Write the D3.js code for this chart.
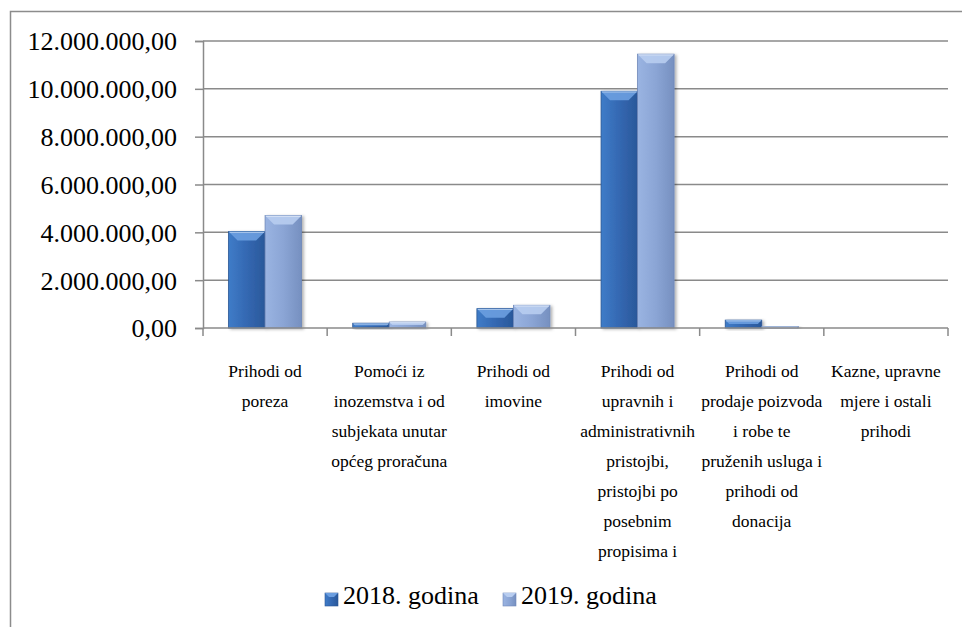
<!DOCTYPE html>
<html><head><meta charset="utf-8">
<script src="https://cdn.jsdelivr.net/npm/d3@7"></script>
<style>body{margin:0;background:#fff}svg{display:block}</style>
</head><body>
<svg id="c" width="962" height="627"></svg>
<script>
const categories = [
  ["Prihodi od","poreza"],
  ["Pomoći iz","inozemstva i od","subjekata unutar","općeg proračuna"],
  ["Prihodi od","imovine"],
  ["Prihodi od","upravnih i","administrativnih","pristojbi,","pristojbi po","posebnim","propisima i"],
  ["Prihodi od","prodaje poizvoda","i robe te","pruženih usluga i","prihodi od","donacija"],
  ["Kazne, upravne","mjere i ostali","prihodi"]
];
const seriesNames = ["2018. godina","2019. godina"];
const values2018 = [4030000, 200000, 810000, 9900000, 330000, 0];
const values2019 = [4700000, 250000, 950000, 11450000, 60000, 0];
const yTicks = [0,2000000,4000000,6000000,8000000,10000000,12000000];

const FONT = "'Liberation Serif', 'Times New Roman', 'DejaVu Serif', 'Noto Serif', serif";
const svg = d3.select("#c");
const L=203,R=948,T=41,B=328;
const defs = svg.append("defs");
const pal = [
  {main:["#3f7cc8","#3468b2","#2a589a"], top:"#6b9ee0", stroke:"#2a5594"},
  {main:["#9ab4e2","#8ba5d5","#7690c0"], top:"#b8cdf0", stroke:"#6f88b8"}
];
pal.forEach((p,i)=>{
  const g=defs.append("linearGradient").attr("id","g"+i).attr("x1",0).attr("x2",1).attr("y1",0).attr("y2",0);
  g.append("stop").attr("offset","0%").attr("stop-color",p.main[0]);
  g.append("stop").attr("offset","50%").attr("stop-color",p.main[1]);
  g.append("stop").attr("offset","100%").attr("stop-color",p.main[2]);
});
const f=defs.append("filter").attr("id","sh").attr("x","-20%").attr("y","-20%").attr("width","150%").attr("height","150%");
f.append("feDropShadow").attr("dx",2).attr("dy",1).attr("stdDeviation",1.5).attr("flood-color","#000").attr("flood-opacity",0.3);

svg.append("rect").attr("x",10.5).attr("y",11.5).attr("width",1000).attr("height",1000)
  .attr("fill","none").attr("stroke","#8c8c8c").attr("stroke-width",1.5);

const y = d3.scaleLinear().domain([0,12000000]).range([B,T]);
const idx = d3.range(categories.length);
const x = d3.scaleBand().domain(idx).range([L,R]).padding(0);
const xs = d3.scaleBand().domain([0,1]).range([0,x.bandwidth()]).paddingInner(0).paddingOuter(0.70);

const loc = d3.formatLocale({decimal:",",thousands:".",grouping:[3],currency:["",""]});
const fmt = loc.format(",.2f");

svg.append("g").selectAll("line").data(yTicks.filter(d=>d>0)).join("line")
  .attr("x1",L).attr("x2",R).attr("y1",d=>y(d)).attr("y2",d=>y(d))
  .attr("stroke","#8a8a8a").attr("stroke-width",1.5);

const ya = svg.append("g").attr("transform",`translate(${L},0)`)
  .call(d3.axisLeft(y).tickValues(yTicks).tickFormat(fmt).tickSize(8).tickPadding(18));
ya.attr("font-family",null).attr("font-size",null);
ya.select(".domain").attr("stroke","#8a8a8a").attr("stroke-width",1.5);
ya.selectAll(".tick line").attr("stroke","#8a8a8a").attr("stroke-width",1.5);
ya.selectAll(".tick text").style("font-family",FONT).style("font-size","26px").attr("fill","#000").attr("dy","0.34em");

const series=[values2018,values2019];
series.forEach((vals,si)=>{
  const p=pal[si];
  const g=svg.append("g");
  vals.forEach((v,ci)=>{
    if(v<=0) return;
    const bx=x(ci)+xs(si), bw=xs.bandwidth(), by=y(v), bh=B-by;
    const gg=g.append("g");
    gg.append("rect").attr("x",bx).attr("y",by).attr("width",bw).attr("height",bh)
      .attr("fill",`url(#g${si})`).attr("stroke",p.stroke).attr("stroke-width",0.8).attr("filter","url(#sh)");
    const b=Math.min(9,bh/2);
    gg.append("polygon").attr("points",[[bx,by],[bx+bw,by],[bx+bw-b,by+b],[bx+b,by+b]].map(d=>d.join(",")).join(" "))
      .attr("fill",p.top).attr("opacity",0.9);
    gg.append("line").attr("x1",bx+1).attr("x2",bx+bw-1).attr("y1",by+0.8).attr("y2",by+0.8)
      .attr("stroke","#ffffff").attr("stroke-opacity",0.45).attr("stroke-width",1);
  });
});

svg.append("line").attr("x1",L).attr("x2",R).attr("y1",B).attr("y2",B).attr("stroke","#8a8a8a").attr("stroke-width",1.5);
svg.append("g").selectAll("line").data(idx.concat([categories.length])).join("line")
  .attr("x1",d=>d<categories.length?x(d):R).attr("x2",d=>d<categories.length?x(d):R)
  .attr("y1",B).attr("y2",B+8).attr("stroke","#8a8a8a").attr("stroke-width",1.5);

const cl=svg.append("g");
categories.forEach((lines,ci)=>{
  const t=cl.append("text").attr("text-anchor","middle").style("font-family",FONT).style("font-size","17.5px").attr("fill","#000");
  lines.forEach((ln,li)=>{
    t.append("tspan").attr("x",x(ci)+x.bandwidth()/2).attr("y",377+li*30).text(ln);
  });
});

const leg=svg.append("g");
const legX=[325,503];
seriesNames.forEach((n,i)=>{
  const p=pal[i];
  leg.append("rect").attr("x",legX[i]).attr("y",593).attr("width",13).attr("height",13)
    .attr("fill",`url(#g${i})`).attr("stroke",p.stroke).attr("stroke-width",0.6);
  leg.append("polygon").attr("points",[[legX[i],593],[legX[i]+13,593],[legX[i]+9,597],[legX[i]+4,597]].map(d=>d.join(",")).join(" ")).attr("fill",p.top);
  leg.append("text").attr("x",legX[i]+18).attr("y",604).style("font-family",FONT).style("font-size","26px").attr("fill","#000").text(n);
});
</script>
</body></html>
